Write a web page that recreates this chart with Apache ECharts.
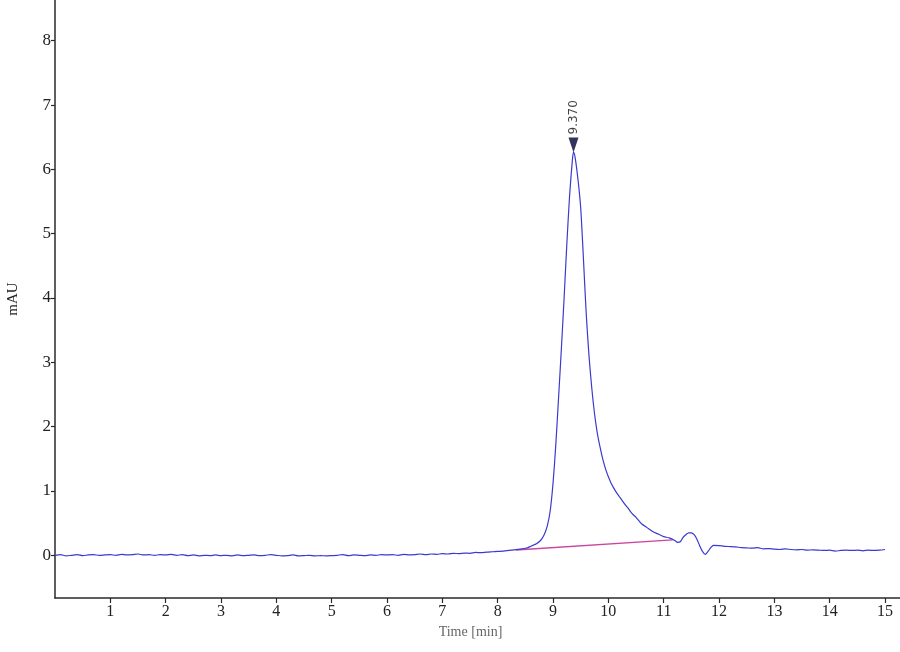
<!DOCTYPE html>
<html>
<head>
<meta charset="utf-8">
<script src="https://cdn.jsdelivr.net/npm/echarts@6/dist/echarts.min.js"></script>
<style>
html,body{margin:0;padding:0;background:#fff;}
#chart{width:900px;height:652px;}
</style>
</head>
<body>
<div id="chart"></div>
<script>
// Chromatogram trace (time in min, signal in mAU)
const timeMin = [
  0.0,0.1,0.2,0.3,0.4,0.5,0.6,0.7,0.8,0.9,
  1.0,1.1,1.2,1.3,1.4,1.5,1.6,1.7,1.8,1.9,
  2.0,2.1,2.2,2.3,2.4,2.5,2.6,2.7,2.8,2.9,
  3.0,3.1,3.2,3.3,3.4,3.5,3.6,3.7,3.8,3.9,
  4.0,4.1,4.2,4.3,4.4,4.5,4.6,4.7,4.8,4.9,
  5.0,5.1,5.2,5.3,5.4,5.5,5.6,5.7,5.8,5.9,
  6.0,6.1,6.2,6.3,6.4,6.5,6.6,6.7,6.8,6.9,
  7.0,7.1,7.2,7.3,7.4,7.5,7.6,7.7,7.8,7.9,
  8.0,8.1,8.2,8.3,8.4,8.5,
  8.55,8.6,8.65,8.7,8.75,8.8,8.85,8.9,8.95,9.0,
  9.05,9.1,9.15,9.2,9.25,9.3,9.35,9.37,9.4,9.45,9.5,
  9.55,9.6,9.65,9.7,9.75,9.8,9.85,9.9,9.95,10.0,
  10.05,10.1,10.15,10.2,10.25,10.3,10.35,10.4,10.45,10.5,
  10.6,10.7,10.8,10.9,11.0,11.1,11.2,11.25,11.3,11.35,
  11.4,11.45,11.5,11.55,11.6,11.65,11.7,11.75,11.8,11.85,
  11.9,12.0,12.1,12.2,12.3,12.4,12.5,12.6,12.7,12.8,12.9,
  13.0,13.1,13.2,13.3,13.4,13.5,13.6,13.7,13.8,13.9,
  14.0,14.1,14.2,14.3,14.4,14.5,14.6,14.7,14.8,14.9,15.0
];
const signalMAU = [
  0.00,0.01,-0.01,0.00,0.01,-0.005,0.005,0.01,0.00,0.005,
  0.01,0.00,0.015,0.005,0.01,0.02,0.005,0.01,0.00,0.01,
  0.005,0.015,0.00,0.01,-0.005,0.005,-0.01,0.00,-0.005,0.005,
  -0.005,0.00,-0.01,0.005,-0.005,0.00,0.005,-0.005,0.00,0.01,
  0.00,-0.01,-0.005,0.005,-0.01,-0.005,0.00,-0.01,-0.005,-0.01,
  -0.005,0.00,0.01,-0.005,0.005,0.00,-0.005,0.005,0.00,0.01,
  0.005,0.01,0.00,0.015,0.005,0.01,0.02,0.01,0.02,0.015,
  0.025,0.02,0.03,0.025,0.035,0.03,0.045,0.04,0.05,0.055,
  0.06,0.065,0.075,0.085,0.095,0.11,
  0.12,0.14,0.16,0.18,0.21,0.26,0.34,0.47,0.70,1.12,
  1.72,2.45,3.2,4.0,4.85,5.6,6.15,6.27,6.18,5.85,5.4,
  4.6,3.75,3.1,2.6,2.2,1.9,1.68,1.49,1.34,1.22,
  1.12,1.04,0.97,0.91,0.85,0.79,0.74,0.68,0.63,0.59,
  0.49,0.43,0.37,0.33,0.29,0.27,0.23,0.20,0.21,0.28,
  0.32,0.35,0.35,0.32,0.25,0.15,0.06,0.015,0.06,0.12,
  0.155,0.15,0.14,0.135,0.13,0.12,0.115,0.11,0.12,0.10,0.105,
  0.095,0.09,0.10,0.09,0.085,0.09,0.08,0.085,0.08,0.075,
  0.08,0.065,0.075,0.08,0.075,0.08,0.07,0.08,0.075,0.08,0.09
];
// Integration baseline (start / end)
const baselineTime = [8.33, 11.16];
const baselineMAU = [0.082, 0.24];
// Peak annotation
const peakTime = [9.37];
const peakMAU = [6.27];
const peakLabels = ['9.370'];
// Axis ticks
const xTicks = [1,2,3,4,5,6,7,8,9,10,11,12,13,14,15];
const yTicks = [0,1,2,3,4,5,6,7,8];

const chart = echarts.init(document.getElementById('chart'), null, {renderer:'canvas'});
const axisColor = '#2a2a2a';
const option = {
  animation:false,
  backgroundColor:'#ffffff',
  grid:{left:55, right:0, top:0, bottom:54, containLabel:false, outerBoundsMode:'none'},
  xAxis:{
    type:'value', min:0, max:15.27,
    axisLine:{show:true, onZero:false, lineStyle:{color:axisColor, width:1.5}},
    axisTick:{show:true, customValues:xTicks, length:5, lineStyle:{color:axisColor, width:1.2}},
    axisLabel:{customValues:xTicks, fontFamily:'Liberation Serif', fontSize:16, color:'#222', margin:6},
    splitLine:{show:false},
    name:'Time [min]', nameLocation:'middle', nameGap:27,
    nameTextStyle:{fontFamily:'Liberation Sans Narrow', fontSize:14, color:'#666', padding:[0,14,0,0]}
  },
  yAxis:{
    type:'value', min:-0.664, max:8.633,
    axisLine:{show:true, onZero:false, lineStyle:{color:axisColor, width:1.5}},
    axisTick:{show:true, customValues:yTicks, length:4, lineStyle:{color:axisColor, width:1.2}},
    axisLabel:{customValues:yTicks, fontFamily:'Liberation Serif', fontSize:17, color:'#222', margin:4},
    splitLine:{show:false},
    name:'mAU', nameLocation:'middle', nameGap:34, nameRotate:90,
    nameTextStyle:{fontFamily:'Liberation Serif', fontSize:15, color:'#222'}
  },
  series:[
    {
      type:'line', name:'baseline',
      data: baselineTime.map((t,i)=>[t, baselineMAU[i]]),
      showSymbol:false, symbol:'none',
      lineStyle:{color:'#cc44a0', width:1.3},
      z:2
    },
    {
      type:'line', name:'signal',
      data: timeMin.map((t,i)=>[t, signalMAU[i]]),
      showSymbol:false, symbol:'none', smooth:0.25,
      lineStyle:{color:'#3a3ad0', width:1.2},
      z:3
    },
    {
      type:'scatter', name:'peak',
      data: peakTime.map((t,i)=>({value:[t, peakMAU[i]], label:{formatter:peakLabels[i]}})),
      symbol:'triangle', symbolRotate:180, symbolSize:[10,15], symbolOffset:[0,-7],
      itemStyle:{color:'#000033'},
      label:{show:true, position:'top', rotate:90, align:'left', verticalAlign:'middle',
             distance:3, fontFamily:'DejaVu Sans', fontSize:12, color:'#111'},
      z:5
    }
  ]
};
chart.setOption(option);
</script>
</body>
</html>
